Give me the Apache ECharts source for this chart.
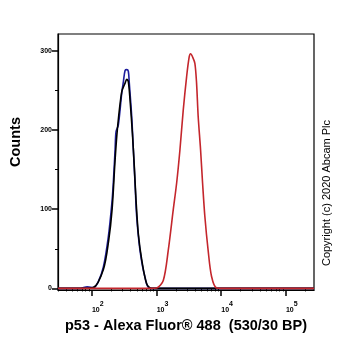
<!DOCTYPE html>
<html><head><meta charset="utf-8">
<script src="https://cdn.jsdelivr.net/npm/echarts@6/dist/echarts.min.js"></script>
<style>html,body{margin:0;padding:0;background:#fff}#c{width:362px;height:351px}</style>
</head><body><div id="c"></div>
<script>
// Fluorescence intensity (linear units) and counts
const blueX = [30, 66, 85, 106, 125, 151, 180, 204, 215, 229, 237, 257, 290, 308, 327, 347, 367, 380, 414, 439, 466, 494, 556, 665, 796, 273000];
const blueY = [0, 0, 2, 1, 8, 27, 65, 107, 133, 175, 198, 206, 246, 261, 275, 276, 274, 259, 217, 175, 133, 91, 48, 14, 0, 0];
const blackX = [30, 71, 105, 151, 182, 206, 229, 248, 290, 327, 347, 367, 390, 424, 454, 483, 524, 592, 706, 843, 273000];
const blackY = [0, 0, 1, 24, 60, 100, 162, 200, 248, 259, 264, 261, 238, 196, 154, 111, 69, 36, 6, 0, 0];
const redX = [30, 794, 1007, 1274, 1521, 1816, 2051, 2307, 2594, 2924, 3206, 3373, 3622, 3926, 4169, 4416, 4808, 5164, 5598, 6295, 7112, 8492, 10233, 273000];
const redY = [0, 0, 0.5, 10, 48, 99, 133, 175, 225, 267, 292, 296, 292, 284, 259, 217, 175, 133, 91, 48, 15, 0.5, 0, 0];
const yTicks = [0, 100, 200, 300];
const yMinorTicks = [50, 150, 250];
const xDecades = [2, 3, 4, 5];
const xMinorMult = [2, 3, 4, 5, 6, 7, 8, 9];
const xMinorDecades = [1, 2, 3, 4, 5];
const X_MIN = 30, X_MAX = 273000;

const lg = Math.log10;
const pts = (xs, ys) => xs.map((x, i) => [lg(x), ys[i]]);
const minorX = [];
xMinorDecades.forEach(d => xMinorMult.forEach(m => { const v = lg(m) + d; if (v > lg(X_MIN) - 1e-9 && v < lg(X_MAX)) minorX.push(v); }));

const font = 'Arial, "Liberation Sans", sans-serif';
const chart = echarts.init(document.getElementById('c'));
const baseX = { type: 'value', min: lg(X_MIN), max: lg(X_MAX), position: 'bottom', splitLine: { show: false } };
const baseY = { type: 'value', min: -2, max: 321, position: 'left', splitLine: { show: false } };
chart.setOption({
  animation: false,
  grid: { left: 58, top: 34, right: 48, bottom: 61, show: true, borderColor: '#000', borderWidth: 1.2, backgroundColor: 'transparent' },
  xAxis: [
    Object.assign({}, baseX, {
      axisLine: { show: true, onZero: false, lineStyle: { color: '#000', width: 1.2 } },
      axisTick: { show: true, length: 6, lineStyle: { color: '#000', width: 1.5 }, customValues: xDecades },
      axisLabel: {
        customValues: xDecades, margin: 11,
        formatter: v => '{b|10}{s|' + Math.round(v) + '}',
        rich: {
          b: { fontFamily: font, fontSize: 7, fontWeight: 'bold', color: '#000', verticalAlign: 'bottom' },
          s: { fontFamily: font, fontSize: 7, fontWeight: 'bold', color: '#000', verticalAlign: 'top', padding: [0, 0, 6, 0] }
        },
        padding: [0, 0, 0, 12]
      },
      name: 'p53 - Alexa Fluor® 488  (530/30 BP)', nameLocation: 'middle', nameGap: 27,
      nameTextStyle: { fontFamily: font, fontSize: 14.5, fontWeight: 'bold', color: '#000' }
    }),
    Object.assign({}, baseX, {
      axisLine: { show: false },
      axisTick: { show: true, length: 3, lineStyle: { color: '#000', width: 1 }, customValues: minorX },
      axisLabel: { show: false }
    })
  ],
  yAxis: [
    Object.assign({}, baseY, {
      axisLine: { show: true, onZero: false, lineStyle: { color: '#000', width: 1.2 } },
      axisTick: { show: true, length: 6, lineStyle: { color: '#000', width: 1.5 }, customValues: yTicks },
      axisLabel: { customValues: yTicks, margin: 6, fontFamily: font, fontSize: 7, fontWeight: 'bold', color: '#000' }
    }),
    Object.assign({}, baseY, {
      axisLine: { show: false },
      axisTick: { show: true, length: 3, lineStyle: { color: '#000', width: 1 }, customValues: yMinorTicks },
      axisLabel: { show: false }
    })
  ],
  graphic: [{
    type: 'text', x: 16, y: 142, rotation: Math.PI / 2,
    style: { text: 'Counts', fontFamily: font, fontSize: 14.5, fontWeight: 'bold', fill: '#000', align: 'center', verticalAlign: 'middle' }
  }, {
    type: 'text', x: 327, y: 193, rotation: Math.PI / 2,
    style: { text: 'Copyright (c) 2020 Abcam Plc', fontFamily: font, fontSize: 11, fill: '#000', align: 'center', verticalAlign: 'middle' }
  }],
  series: [
    { type: 'line', data: pts(blueX, blueY), smooth: 0.3, symbol: 'none', lineStyle: { color: '#1f1f9c', width: 1.6 }, z: 3 },
    { type: 'line', data: pts(blackX, blackY), smooth: 0.3, symbol: 'none', lineStyle: { color: '#000000', width: 1.6 }, z: 4 },
    { type: 'line', data: pts(redX, redY), smooth: 0.3, symbol: 'none', lineStyle: { color: '#c4262c', width: 1.6 }, z: 5 }
  ]
});
</script></body></html>
